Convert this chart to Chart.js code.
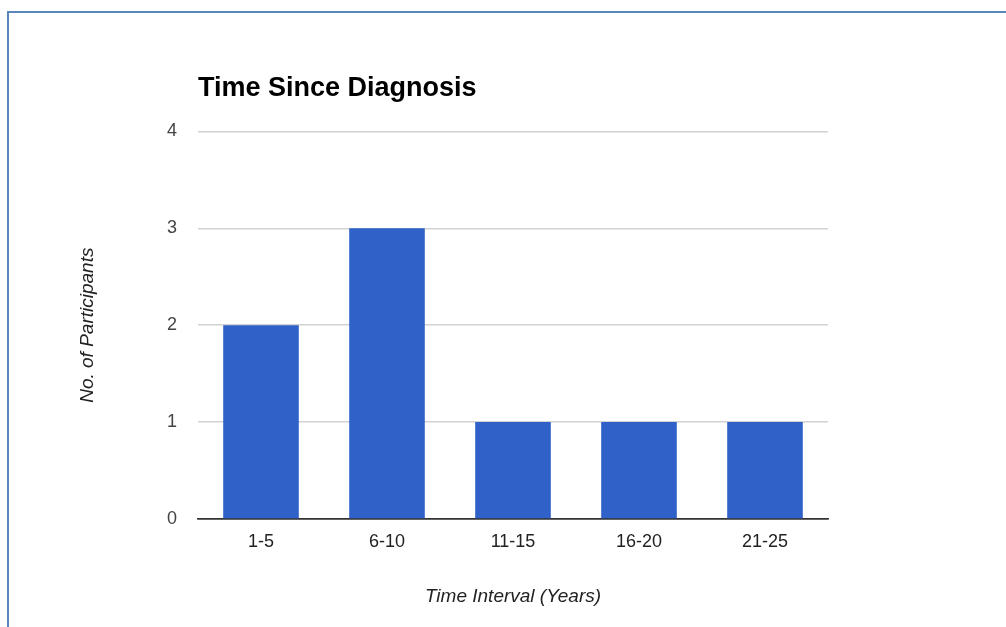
<!DOCTYPE html>
<html>
<head>
<meta charset="utf-8">
<title>Time Since Diagnosis</title>
<script src="https://cdn.jsdelivr.net/npm/chart.js@4/dist/chart.umd.min.js"></script>
<style>
    html, body { margin: 0; padding: 0; background: #fff; }
    #wrap { position: relative; width: 1006px; height: 627px; overflow: hidden; }
    #frame {
        position: absolute; left: 7px; top: 11px; width: 1100px; height: 700px;
        border-top: 2px solid #5a86b9; border-left: 2px solid #5a86b9;
    }
    #time_chart { position: absolute; left: 0; top: 0; }
</style>
</head>
<body>
<div id="wrap">
    <div id="frame"></div>
    <canvas id="time_chart" width="1006" height="627"></canvas>
</div>
<script>
    // chart data
    var intervals = ["1-5", "6-10", "11-15", "16-20", "21-25"];
    var participants = [2, 3, 1, 1, 1];
    var yTicks = [0, 1, 2, 3, 4];

    (function() {
        "use strict"

        var fontFamily = "'Liberation Sans', Arial, sans-serif";

        var timeChart = function(){
            var el = document.getElementById("time_chart");
            if(!el) return;
            const ctx = el.getContext('2d');
            new Chart(ctx, {
                type: 'bar',
                data: {
                    labels: intervals,
                    datasets: [{
                        data: participants,
                        backgroundColor: '#2f61c9',
                        borderWidth: 0,
                        barPercentage: 0.6,
                        categoryPercentage: 1.0
                    }]
                },
                options: {
                    responsive: false,
                    animation: false,
                    layout: { padding: { left: 0, right: 178, top: 0, bottom: 0 } },
                    plugins: {
                        legend: { display: false },
                        tooltip: { enabled: false },
                        title: {
                            display: true,
                            text: 'Time Since Diagnosis',
                            align: 'start',
                            fullSize: false,
                            color: '#000',
                            font: { family: fontFamily, size: 27, weight: 'bold' },
                            padding: { top: 72, bottom: 27 }
                        }
                    },
                    scales: {
                        x: {
                            grid: { display: false, drawTicks: false },
                            border: { display: true, color: '#333', width: 1.5 },
                            ticks: {
                                color: '#222',
                                padding: 12,
                                font: { family: fontFamily, size: 18 }
                            },
                            title: {
                                display: true,
                                text: 'Time Interval (Years)',
                                color: '#222',
                                font: { family: fontFamily, size: 19, style: 'italic' },
                                padding: { top: 0, bottom: 19 }
                            },
                            afterFit: function(scale){ scale.height = 108; }
                        },
                        y: {
                            min: yTicks[0],
                            max: yTicks[yTicks.length - 1],
                            afterBuildTicks: function(scale){
                                scale.ticks = yTicks.map(function(v){ return { value: v }; });
                            },
                            grid: {
                                drawTicks: false,
                                lineWidth: 1.5,
                                color: function(c){ return c.tick && c.tick.value === 0 ? '#333' : '#d2d2d2'; }
                            },
                            border: { display: false },
                            ticks: {
                                color: '#444',
                                padding: 21,
                                font: { family: fontFamily, size: 18 }
                            },
                            title: {
                                display: true,
                                text: 'No. of Participants',
                                color: '#222',
                                font: { family: fontFamily, size: 19, style: 'italic' },
                                padding: { top: 76, bottom: 0 }
                            },
                            afterFit: function(scale){ scale.width = 198; }
                        }
                    }
                }
            });
        }

        window.addEventListener('load', function(){
            timeChart();
        });
    })();
</script>
</body>
</html>
